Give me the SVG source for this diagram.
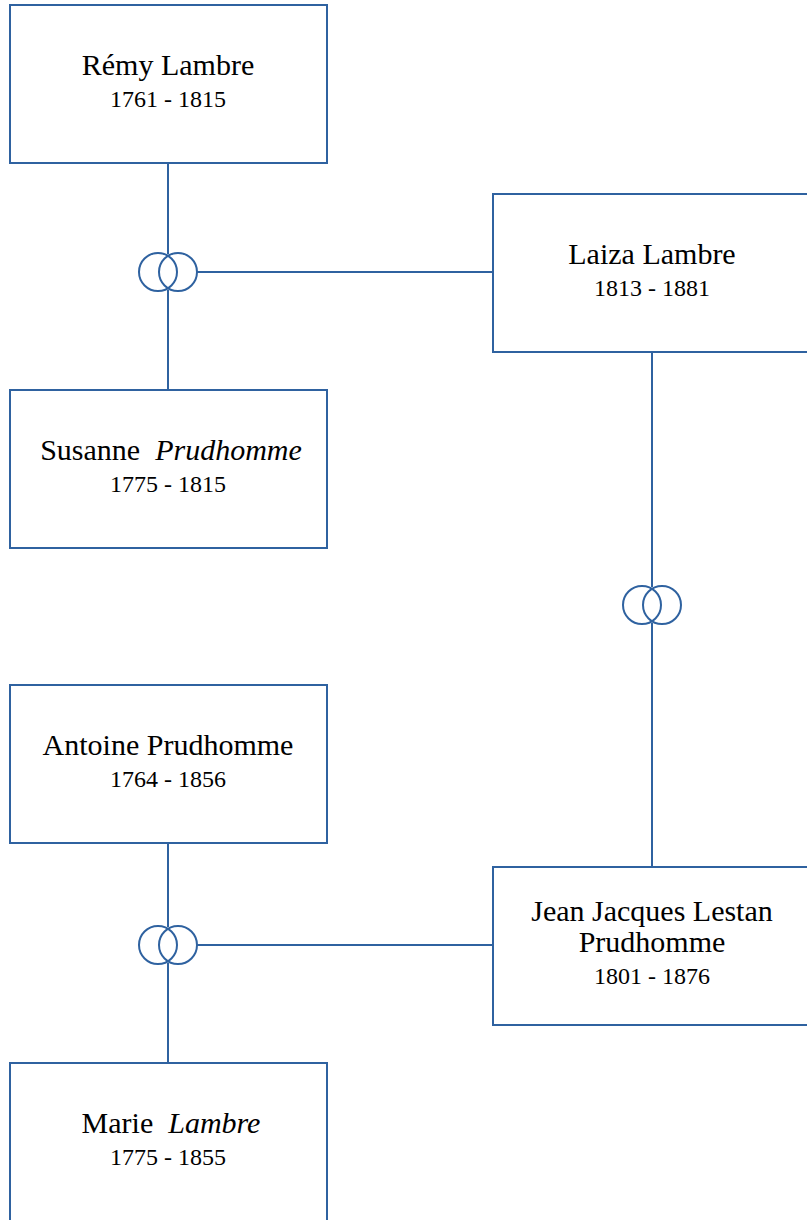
<svg xmlns="http://www.w3.org/2000/svg" width="807" height="1220" viewBox="0 0 807 1220">
<style>
.box{fill:#fff;stroke:#2f62a0;stroke-width:2}
.ln{fill:none;stroke:#2f62a0;stroke-width:2}
.nm{font-family:"Liberation Serif",serif;font-size:30px;fill:#000;text-anchor:middle}
.dt{font-family:"Liberation Serif",serif;font-size:24px;fill:#000;text-anchor:middle}
.it{font-style:italic}
</style>
<rect width="807" height="1220" fill="#fff"/>
<g id="connectors">
<line class="ln" x1="168" y1="163" x2="168" y2="254"/>
<line class="ln" x1="168" y1="290" x2="168" y2="390"/>
<line class="ln" x1="197" y1="272" x2="493" y2="272"/>
<circle class="ln" cx="158" cy="272" r="19"/>
<circle class="ln" cx="178" cy="272" r="19"/>
<line class="ln" x1="652" y1="352" x2="652" y2="587"/>
<line class="ln" x1="652" y1="623" x2="652" y2="867"/>
<circle class="ln" cx="642" cy="605" r="19"/>
<circle class="ln" cx="662" cy="605" r="19"/>
<line class="ln" x1="168" y1="843" x2="168" y2="927"/>
<line class="ln" x1="168" y1="963" x2="168" y2="1063"/>
<line class="ln" x1="197" y1="945" x2="493" y2="945"/>
<circle class="ln" cx="158" cy="945" r="19"/>
<circle class="ln" cx="178" cy="945" r="19"/>
</g>
<g id="remy">
<rect class="box" x="10" y="5" width="317" height="158"/>
<text class="nm" x="168" y="75">Rémy Lambre</text>
<text class="dt" x="168" y="107">1761 - 1815</text>
</g>
<g id="laiza">
<rect class="box" x="493" y="194" width="320" height="158"/>
<text class="nm" x="652" y="264">Laiza Lambre</text>
<text class="dt" x="652" y="296">1813 - 1881</text>
</g>
<g id="susanne">
<rect class="box" x="10" y="390" width="317" height="158"/>
<text class="nm" x="171" y="460" xml:space="preserve">Susanne  <tspan class="it">Prudhomme</tspan></text>
<text class="dt" x="168" y="492">1775 - 1815</text>
</g>
<g id="antoine">
<rect class="box" x="10" y="685" width="317" height="158"/>
<text class="nm" x="168" y="755">Antoine Prudhomme</text>
<text class="dt" x="168" y="787">1764 - 1856</text>
</g>
<g id="jean">
<rect class="box" x="493" y="867" width="320" height="158"/>
<text class="nm" x="652" y="921">Jean Jacques Lestan</text>
<text class="nm" x="652" y="952">Prudhomme</text>
<text class="dt" x="652" y="984">1801 - 1876</text>
</g>
<g id="marie">
<rect class="box" x="10" y="1063" width="317" height="162"/>
<text class="nm" x="171" y="1133" xml:space="preserve">Marie  <tspan class="it">Lambre</tspan></text>
<text class="dt" x="168" y="1165">1775 - 1855</text>
</g>
</svg>
